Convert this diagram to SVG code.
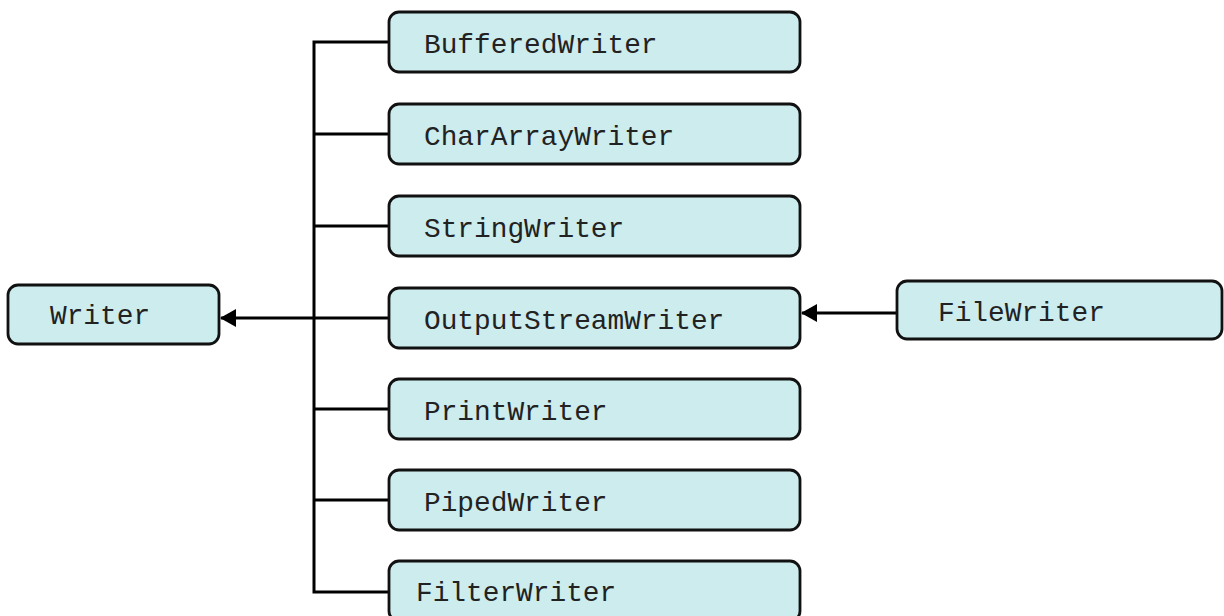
<svg xmlns="http://www.w3.org/2000/svg" width="1224" height="616" viewBox="0 0 1224 616">
<style>
.box{fill:#ccecee;stroke:#111;stroke-width:2.8}
.t{font-family:"Liberation Mono","Courier New",monospace;font-size:27.8px;fill:#222}
.c{fill:none;stroke:#000;stroke-width:3}
</style>
<defs>
<marker id="ah" markerWidth="16" markerHeight="18" refX="15" refY="9" orient="auto" markerUnits="userSpaceOnUse" viewBox="0 0 16 18">
<path d="M0,0 L16,9 L0,18 z" fill="#000"/>
</marker>
</defs>
<rect width="1224" height="616" fill="#fff"/>
<g id="connectors">
<path class="c" d="M389,42 H314 V592 H389"/>
<path class="c" d="M389,134 H314"/>
<path class="c" d="M389,226 H314"/>
<path class="c" d="M389,409 H314"/>
<path class="c" d="M389,500 H314"/>
<path class="c" d="M389,318 H221" marker-end="url(#ah)"/>
<path class="c" d="M897,313 H802" marker-end="url(#ah)"/>
</g>
<g id="Writer"><rect class="box" x="8" y="285" width="211" height="59" rx="10"/><text class="t" x="50" y="324">Writer</text></g>
<g id="BufferedWriter"><rect class="box" x="389" y="12" width="411" height="60" rx="10"/><text class="t" x="424" y="53">BufferedWriter</text></g>
<g id="CharArrayWriter"><rect class="box" x="389" y="104" width="411" height="60" rx="10"/><text class="t" x="424" y="145">CharArrayWriter</text></g>
<g id="StringWriter"><rect class="box" x="389" y="196" width="411" height="60" rx="10"/><text class="t" x="424" y="237">StringWriter</text></g>
<g id="OutputStreamWriter"><rect class="box" x="389" y="288" width="411" height="60" rx="10"/><text class="t" x="424" y="329">OutputStreamWriter</text></g>
<g id="PrintWriter"><rect class="box" x="389" y="379" width="411" height="60" rx="10"/><text class="t" x="424" y="420">PrintWriter</text></g>
<g id="PipedWriter"><rect class="box" x="389" y="470" width="411" height="60" rx="10"/><text class="t" x="424" y="511">PipedWriter</text></g>
<g id="FilterWriter"><rect class="box" x="389" y="561" width="411" height="60" rx="10"/><text class="t" x="416" y="601">FilterWriter</text></g>
<g id="FileWriter"><rect class="box" x="897" y="281" width="325" height="58" rx="10"/><text class="t" x="938" y="321">FileWriter</text></g>
</svg>
